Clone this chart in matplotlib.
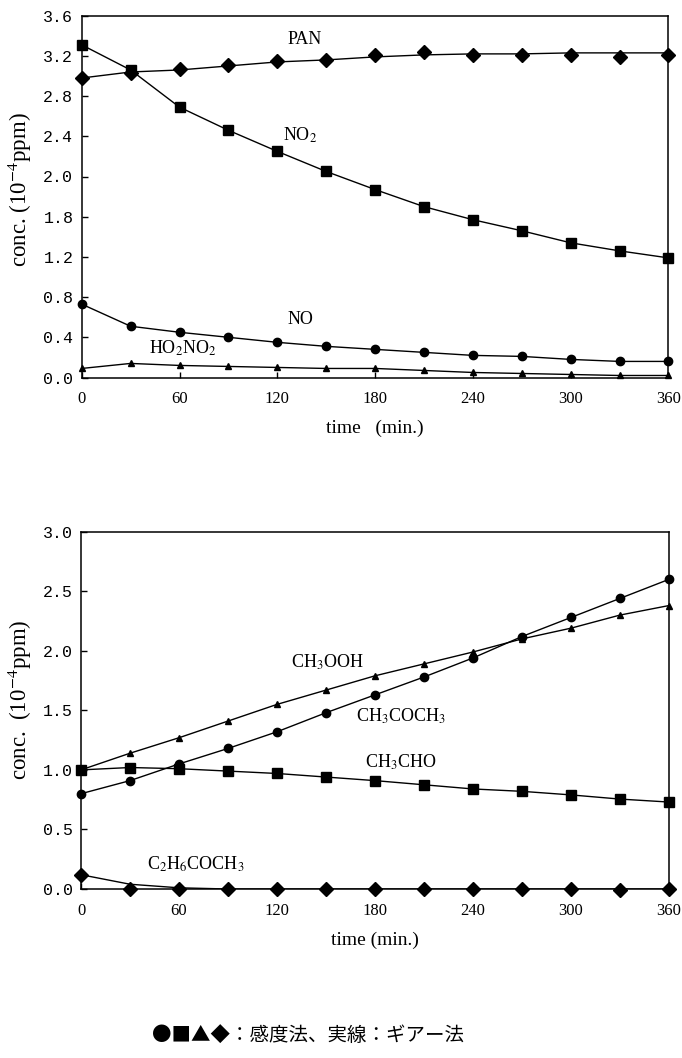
import matplotlib
matplotlib.use('Agg')
import matplotlib.pyplot as plt

'''
data: time axis and the concentrations (10^-4 ppm)
markers = sensitivity method, solid line = Gear method
'''
time = [0, 30, 60, 90, 120, 150, 180, 210, 240, 270, 300, 330, 360]

pan = [2.98, 3.03, 3.07, 3.11, 3.15, 3.16, 3.21, 3.24, 3.21, 3.21, 3.21, 3.19, 3.21]
pan_gear = [2.98, 3.04, 3.06, 3.10, 3.14, 3.16, 3.19, 3.21, 3.22, 3.22, 3.23, 3.23, 3.23]
no2 = [3.31, 3.06, 2.69, 2.46, 2.25, 2.05, 1.87, 1.70, 1.57, 1.46, 1.34, 1.26, 1.19]
no = [0.73, 0.51, 0.45, 0.40, 0.35, 0.31, 0.28, 0.25, 0.22, 0.21, 0.18, 0.16, 0.16]
ho2no2 = [0.09, 0.14, 0.12, 0.11, 0.10, 0.09, 0.09, 0.07, 0.05, 0.04, 0.03, 0.02, 0.02]

ch3cococh3 = [0.80, 0.91, 1.05, 1.18, 1.32, 1.48, 1.63, 1.78, 1.94, 2.12, 2.28, 2.44, 2.60]
ch3ooh = [1.00, 1.14, 1.27, 1.41, 1.55, 1.67, 1.79, 1.89, 1.99, 2.10, 2.19, 2.30, 2.38]
ch3cho = [1.00, 1.02, 1.01, 0.99, 0.97, 0.94, 0.91, 0.875, 0.84, 0.82, 0.79, 0.755, 0.73]
c2h6coch3 = [0.12, 0.0, 0.0, 0.0, 0.0, 0.0, 0.0, 0.0, 0.0, 0.0, 0.0, -0.01, 0.0]
c2h6coch3_gear = [0.12, 0.04, 0.01, 0.0, 0.0, 0.0, 0.0, 0.0, 0.0, 0.0, 0.0, 0.0, 0.0]

top_yticks = [0.0, 0.4, 0.8, 1.2, 1.6, 2.0, 2.4, 2.8, 3.2, 3.6]
top_yticklabels = ['0.0', '0.4', '0.8', '1.2', '1.8', '2.0', '2.4', '2.8', '3.2', '3.6']
bot_yticks = [0.0, 0.5, 1.0, 1.5, 2.0, 2.5, 3.0]
xticks = [0, 60, 120, 180, 240, 300, 360]

'''
style
'''
plt.rcParams['font.family'] = ['Liberation Serif', 'DejaVu Serif']
plt.rcParams['mathtext.fontset'] = 'stix'
W, H = 682, 1058

fig = plt.figure(figsize=(W / 100, H / 100), dpi=100)
ax1 = fig.add_axes([81.7 / W, 1 - 377.5 / H, (668.5 - 81.7) / W, (377.5 - 15.7) / H])
ax2 = fig.add_axes([81.0 / W, 1 - 889.0 / H, (669.0 - 81.0) / W, (889.0 - 531.7) / H])

def series(ax, y, marker, ms, line=None):
    ax.plot(time, y if line is None else line, color='black', lw=1.0, zorder=2)
    ax.plot(time, y, ls='none', marker=marker, ms=ms, color='black', zorder=3, clip_on=False)

def style_axes(ax, yticks, yticklabels, ylim, xlabel):
    ax.set_xlim(0, 360)
    ax.set_ylim(*ylim)
    ax.set_xticks(xticks)
    ax.set_xticklabels([str(t) for t in xticks], fontsize=12)
    ax.set_yticks(yticks)
    ax.set_yticklabels(yticklabels, fontsize=12, family='Liberation Mono')
    ax.tick_params(direction='in', length=4, width=1)
    ax.tick_params(axis='x', pad=10)
    ax.tick_params(axis='y', pad=6)
    for s in ax.spines.values():
        s.set_linewidth(1.1)
    ax.set_xlabel(xlabel, fontsize=14, labelpad=9)

'''
top panel
'''
series(ax1, pan, 'D', 7, pan_gear)
series(ax1, no2, 's', 6.5)
series(ax1, no, 'o', 6)
series(ax1, ho2no2, '^', 4.5)
style_axes(ax1, top_yticks, top_yticklabels, (0, 3.6), 'time   (min.)')
ax1.text(137, 3.36, 'PAN', fontsize=13, ha='center', va='center')
ax1.text(134, 2.41, 'NO$_2$', fontsize=13, ha='center', va='center')
ax1.text(134, 0.58, 'NO', fontsize=13, ha='center', va='center')
ax1.text(62, 0.29, 'HO$_2$NO$_2$', fontsize=13, ha='center', va='center')

'''
bottom panel
'''
series(ax2, ch3cococh3, 'o', 6)
series(ax2, ch3ooh, '^', 4.5)
series(ax2, ch3cho, 's', 6.5)
series(ax2, c2h6coch3, 'D', 7, c2h6coch3_gear)
style_axes(ax2, bot_yticks, ['%.1f' % v for v in bot_yticks], (0, 3.0), 'time (min.)')
ax2.text(151, 1.90, 'CH$_3$OOH', fontsize=13, ha='center', va='center')
ax2.text(196, 1.45, 'CH$_3$COCH$_3$', fontsize=13, ha='center', va='center')
ax2.text(196, 1.06, 'CH$_3$CHO', fontsize=13, ha='center', va='center')
ax2.text(70, 0.21, 'C$_2$H$_6$COCH$_3$', fontsize=13, ha='center', va='center')

'''
y labels and caption
'''
fig.text(20 / W, 1 - 190 / H, 'conc. (10$^{-4}$ppm)', rotation=90, fontsize=16.5,
         ha='center', va='center')
fig.text(20 / W, 1 - 700 / H, 'conc.  (10$^{-4}$ppm)', rotation=90, fontsize=16.5,
         ha='center', va='center')
fig.text(0.452, 1 - 1035 / H, '●■▲◆：感度法、実線：ギアー法', fontsize=14,
         ha='center', va='center', family=['Noto Sans CJK JP', 'DejaVu Sans'])

fig.savefig('out.png', dpi=100)
